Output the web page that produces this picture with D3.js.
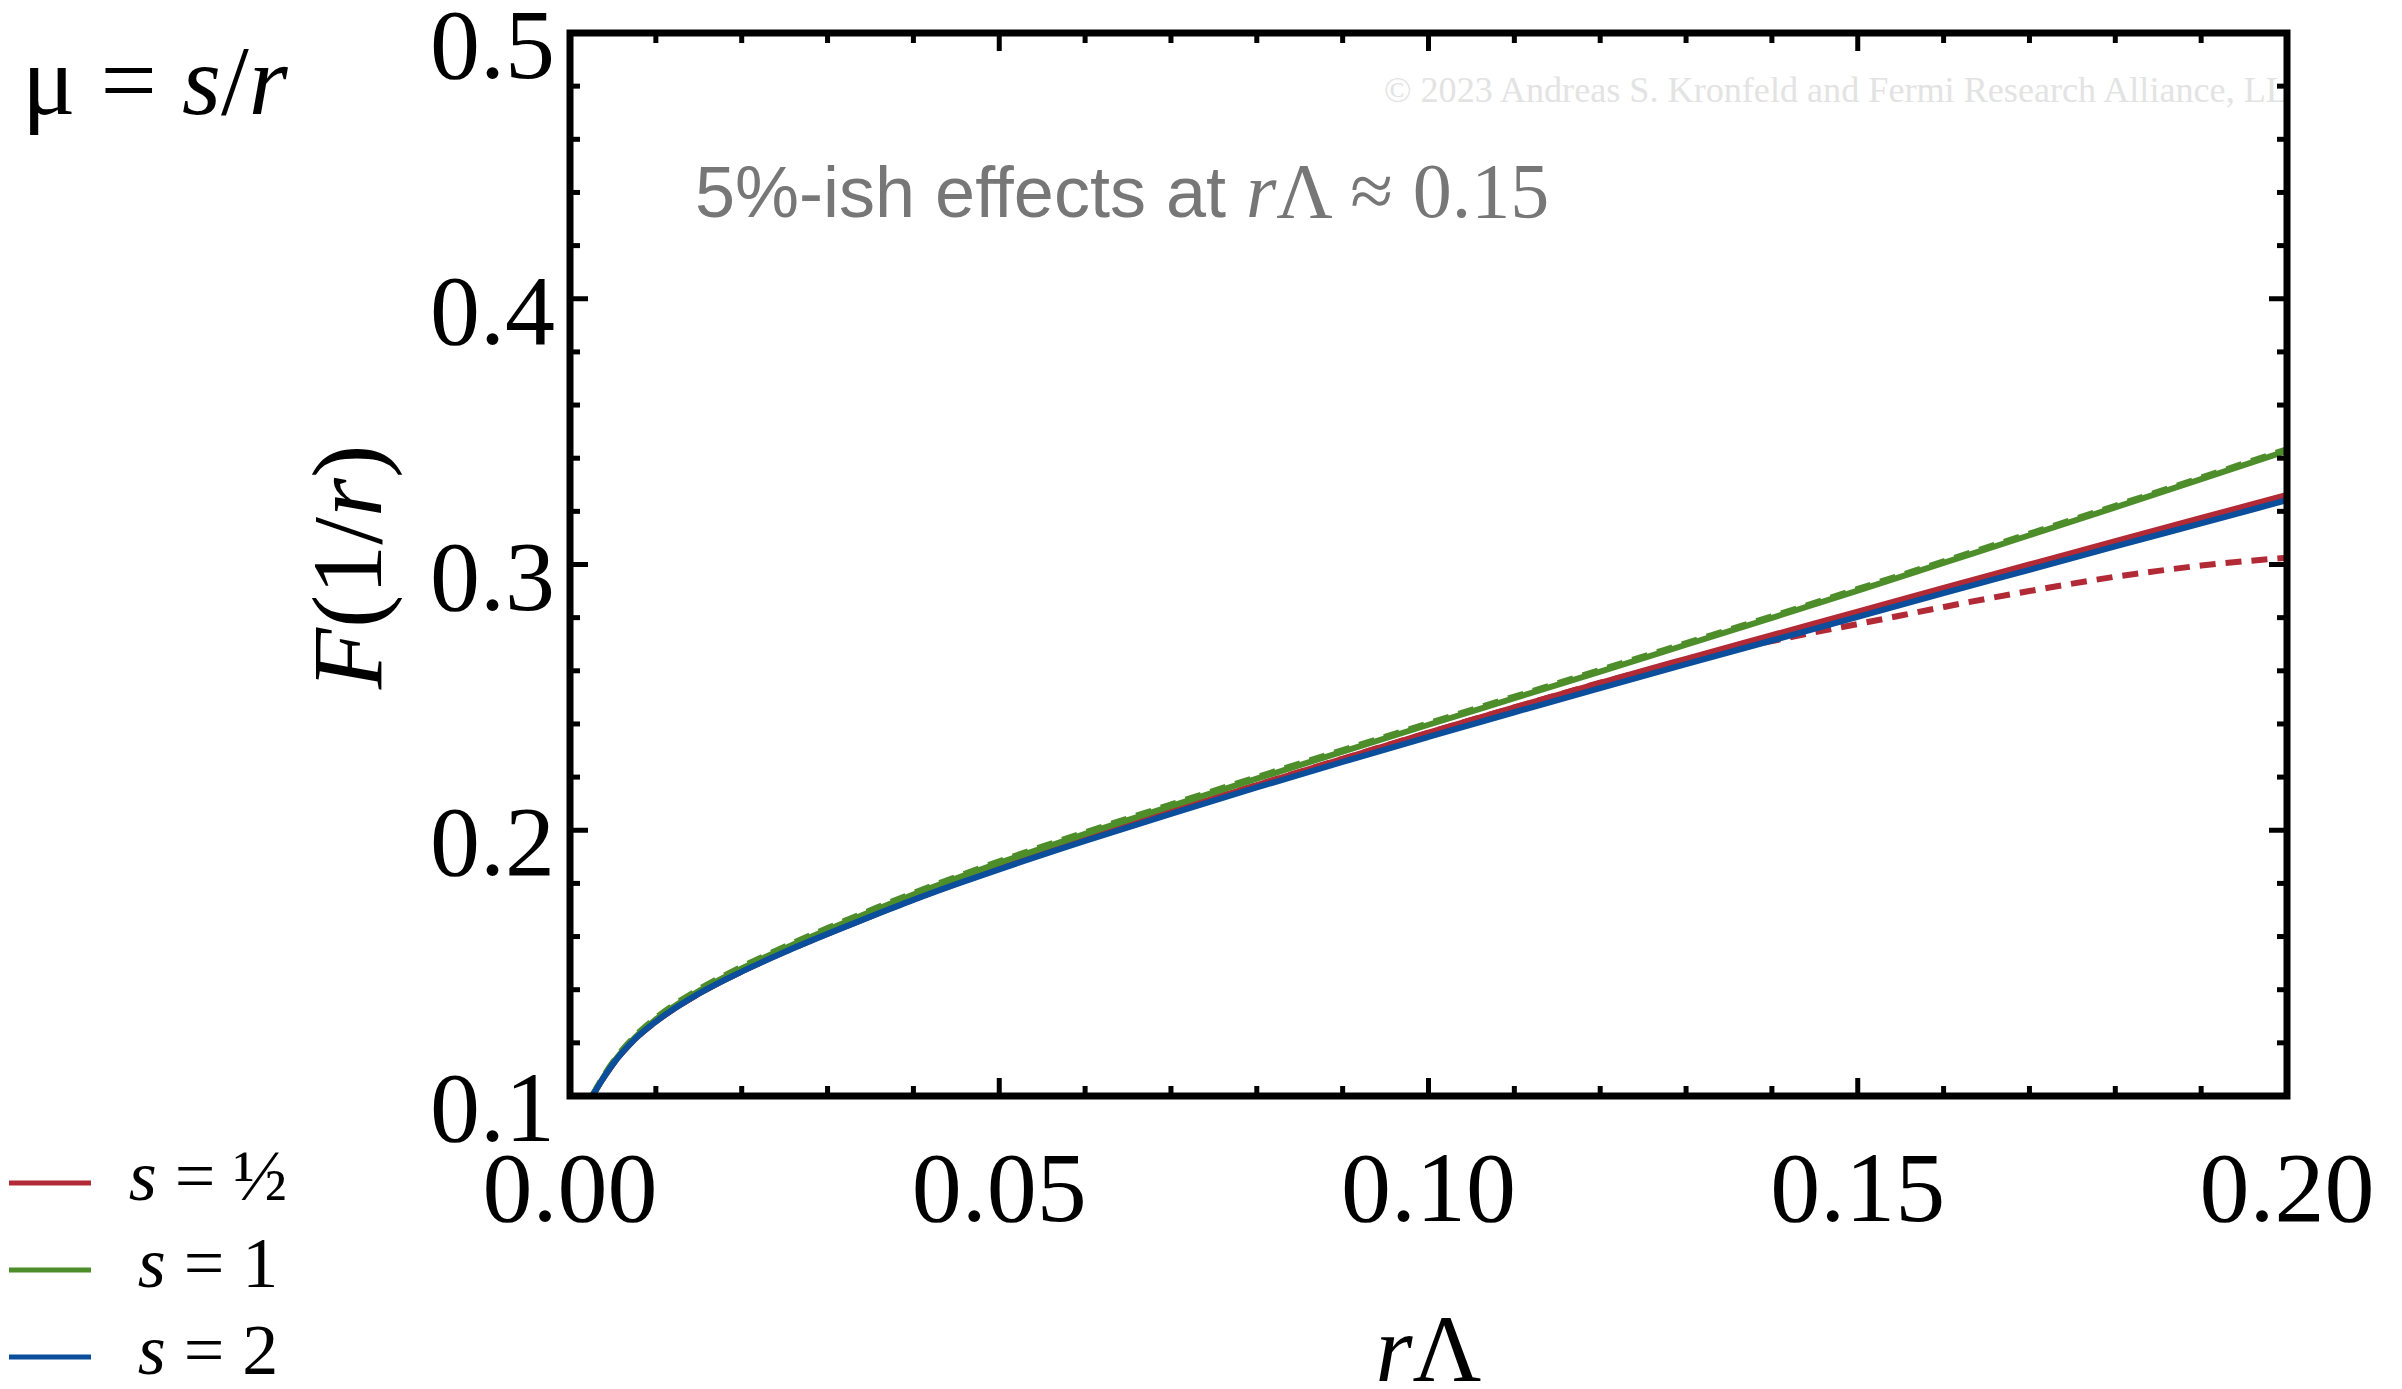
<!DOCTYPE html>
<html>
<head>
<meta charset="utf-8">
<script src="https://cdn.jsdelivr.net/npm/d3@7"></script>
<style>
body { margin: 0; background: #fff; }
text { font-family: "Liberation Serif", "Times New Roman", serif; }
</style>
</head>
<body>
<svg id="chart" width="2402" height="1389"></svg>
<script>
// rΛ sample points shared by the solid curves
var xs = [0.0026, 0.0035, 0.005, 0.0075, 0.01, 0.015, 0.02, 0.025, 0.03, 0.035, 0.04, 0.045, 0.05,
	0.06, 0.07, 0.08, 0.09, 0.10, 0.11, 0.12, 0.13, 0.14, 0.15, 0.16, 0.17, 0.18, 0.19, 0.20];

// F(1/r), s = 1/2 (red), s = 1 (green), s = 2 (blue)
var redSolid = [0.1000, 0.1048, 0.1120, 0.1212, 0.1280, 0.1385, 0.1469, 0.1543, 0.1611, 0.1676, 0.1740, 0.1799, 0.1856,
	0.1965, 0.2070, 0.2170, 0.2269, 0.2367, 0.2462, 0.2555, 0.2645, 0.2734, 0.2823, 0.2912, 0.3000, 0.3088, 0.3175, 0.3262];
var greenSolid = [0.1000, 0.1050, 0.1124, 0.1218, 0.1288, 0.1395, 0.1480, 0.1556, 0.1626, 0.1693, 0.1758, 0.1819, 0.1877,
	0.1986, 0.2091, 0.2194, 0.2296, 0.2397, 0.2497, 0.2597, 0.2698, 0.2799, 0.2902, 0.3006, 0.3110, 0.3215, 0.3321, 0.3428];
var greenDashed = [0.1002, 0.1053, 0.1128, 0.1223, 0.1294, 0.1401, 0.1486, 0.1562, 0.1632, 0.1699, 0.1764, 0.1825, 0.1883,
	0.1992, 0.2097, 0.2200, 0.2302, 0.2403, 0.2503, 0.2603, 0.2704, 0.2805, 0.2908, 0.3012, 0.3116, 0.3221, 0.3327, 0.3434];
var blueSolid = [0.1000, 0.1048, 0.1120, 0.1212, 0.1280, 0.1385, 0.1468, 0.1542, 0.1610, 0.1675, 0.1738, 0.1797, 0.1853,
	0.1960, 0.2062, 0.2161, 0.2257, 0.2351, 0.2444, 0.2535, 0.2625, 0.2714, 0.2803, 0.2892, 0.2980, 0.3068, 0.3155, 0.3242];

// red dashed curve, which bends away above rΛ ~ 0.13
var redDashX = [0.0026, 0.0035, 0.005, 0.0075, 0.01, 0.015, 0.02, 0.025, 0.03, 0.035, 0.04, 0.045, 0.05,
	0.06, 0.07, 0.08, 0.09, 0.10, 0.11, 0.12, 0.125, 0.13, 0.135, 0.14, 0.145, 0.15, 0.155, 0.16,
	0.165, 0.17, 0.175, 0.18, 0.185, 0.19, 0.195, 0.20];
var redDashed = [0.1000, 0.1048, 0.1120, 0.1212, 0.1280, 0.1385, 0.1469, 0.1543, 0.1611, 0.1676, 0.1740, 0.1799, 0.1856,
	0.1965, 0.2070, 0.2170, 0.2269, 0.2367, 0.2462, 0.2555, 0.2598, 0.2640, 0.2678, 0.2712, 0.2745, 0.2776, 0.2808, 0.2840,
	0.2871, 0.2900, 0.2928, 0.2954, 0.2976, 0.2996, 0.3012, 0.3025];

var xTickLabels = ['0.00', '0.05', '0.10', '0.15', '0.20'];
var yTickLabels = ['0.1', '0.2', '0.3', '0.4', '0.5'];
var legendLabels = ['½', '1', '2'];

var colors = {red: '#b12a36', green: '#4d8e2b', blue: '#0b4e9b'};

(function() {
	var svg = d3.select('#chart');
	var pL = 570, pR = 2287, pT = 33, pB = 1096;

	var x = d3.scaleLinear().domain([0, 0.2]).range([pL, pR]);
	var y = d3.scaleLinear().domain([0.1, 0.5]).range([pB, pT]);

	svg.append('defs').append('clipPath').attr('id', 'plotclip')
		.append('rect').attr('x', pL).attr('y', pT).attr('width', pR - pL).attr('height', pB - pT);

	// copyright watermark, cut off at the frame
	svg.append('text')
		.attr('clip-path', 'url(#plotclip)')
		.attr('x', 1384).attr('y', 102)
		.attr('font-size', 35)
		.attr('fill', '#e3e3e3')
		.attr('textLength', 928)
		.attr('lengthAdjust', 'spacingAndGlyphs')
		.text('© 2023 Andreas S. Kronfeld and Fermi Research Alliance, LLC');

	// curves
	var line = d3.line().curve(d3.curveMonotoneX)
		.x(function(d) { return x(d[0]); })
		.y(function(d) { return y(d[1]); });

	function pairs(xv, yv) { return xv.map(function(v, i) { return [v, yv[i]]; }); }

	var series = [
		{data: pairs(xs, redSolid), color: colors.red, dash: null},
		{data: pairs(redDashX, redDashed), color: colors.red, dash: '16,10'},
		{data: pairs(xs, greenSolid), color: colors.green, dash: null},
		{data: pairs(xs, greenDashed), color: colors.green, dash: '16,10'},
		{data: pairs(xs, blueSolid), color: colors.blue, dash: null}
	];

	svg.append('g').attr('clip-path', 'url(#plotclip)')
		.selectAll('path')
		.data(series)
		.join('path')
			.attr('d', function(d) { return line(d.data); })
			.attr('fill', 'none')
			.attr('stroke', function(d) { return d.color; })
			.attr('stroke-width', 6)
			.attr('stroke-dasharray', function(d) { return d.dash; });

	// frame and inward ticks on all four sides
	var ticks = svg.append('g').attr('stroke', '#000').attr('stroke-width', 5);
	var xTicks = d3.range(0, 21).map(function(i) { return i / 100; });
	var yTicks = d3.range(0, 21).map(function(i) { return 0.1 + i / 50; });

	xTicks.forEach(function(v, i) {
		var len = i % 5 === 0 ? 18 : 10;
		ticks.append('line').attr('x1', x(v)).attr('x2', x(v)).attr('y1', pB).attr('y2', pB - len);
		ticks.append('line').attr('x1', x(v)).attr('x2', x(v)).attr('y1', pT).attr('y2', pT + len);
	});
	yTicks.forEach(function(v, i) {
		var len = i % 5 === 0 ? 18 : 10;
		ticks.append('line').attr('y1', y(v)).attr('y2', y(v)).attr('x1', pL).attr('x2', pL + len);
		ticks.append('line').attr('y1', y(v)).attr('y2', y(v)).attr('x1', pR).attr('x2', pR - len);
	});

	svg.append('rect')
		.attr('x', pL).attr('y', pT)
		.attr('width', pR - pL).attr('height', pB - pT)
		.attr('fill', 'none').attr('stroke', '#000').attr('stroke-width', 7);

	// tick labels
	svg.append('g').selectAll('text')
		.data(xTickLabels)
		.join('text')
			.attr('x', function(d) { return x(+d); })
			.attr('y', 1221)
			.attr('text-anchor', 'middle')
			.attr('font-size', 100)
			.text(function(d) { return d; });

	svg.append('g').selectAll('text')
		.data(yTickLabels)
		.join('text')
			.attr('x', 555)
			.attr('y', function(d) { return y(+d) + 45; })
			.attr('text-anchor', 'end')
			.attr('font-size', 100)
			.text(function(d) { return d; });

	// axis titles
	var xt = svg.append('text').attr('x', (pL + pR) / 2).attr('y', 1381)
		.attr('text-anchor', 'middle').attr('font-size', 95);
	xt.append('tspan').attr('font-style', 'italic').text('r');
	xt.append('tspan').text('Λ');

	var yt = svg.append('text').attr('transform', 'translate(381,567) rotate(-90)')
		.attr('text-anchor', 'middle').attr('font-size', 100);
	yt.append('tspan').attr('font-style', 'italic').text('F');
	yt.append('tspan').text('(1/');
	yt.append('tspan').attr('font-style', 'italic').text('r');
	yt.append('tspan').text(')');

	// scale choice label
	var mu = svg.append('text').attr('x', 22).attr('y', 114).attr('font-size', 100);
	mu.append('tspan').text('μ = ');
	mu.append('tspan').attr('font-style', 'italic').text('s');
	mu.append('tspan').text('/');
	mu.append('tspan').attr('font-style', 'italic').text('r');

	// annotation
	var note = svg.append('text').attr('x', 695).attr('y', 217).attr('fill', '#777');
	note.append('tspan').attr('font-family', '"Liberation Sans", Arial, sans-serif').attr('font-size', 72).text('5%-ish effects at ');
	note.append('tspan').attr('font-size', 78).attr('font-style', 'italic').text('r');
	note.append('tspan').attr('font-size', 78).text('Λ ≈ 0.15');

	// legend
	var legendColors = [colors.red, colors.green, colors.blue];
	var legend = svg.append('g').selectAll('g')
		.data(legendLabels)
		.join('g')
			.attr('transform', function(d, i) { return 'translate(0,' + (1183 + i * 87) + ')'; });

	legend.append('line')
		.attr('x1', 9).attr('x2', 91)
		.attr('stroke', function(d, i) { return legendColors[i]; })
		.attr('stroke-width', 5);

	var lt = legend.append('text')
		.attr('x', 208).attr('y', 17)
		.attr('text-anchor', 'middle')
		.attr('font-size', 72);
	lt.append('tspan').attr('font-style', 'italic').text('s');
	lt.append('tspan').text(function(d) { return ' = ' + d; });
})();
</script>
</body>
</html>
